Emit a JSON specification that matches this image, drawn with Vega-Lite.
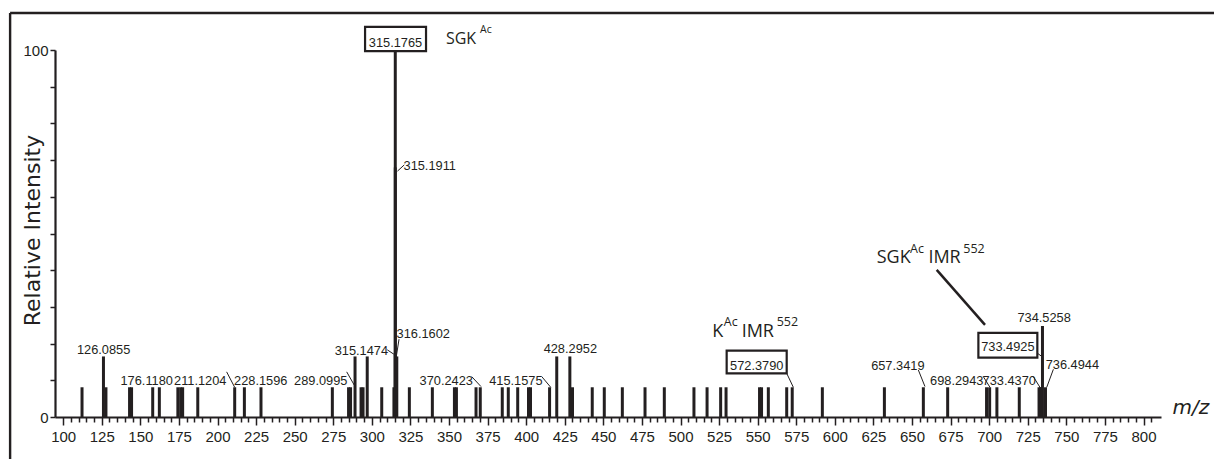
{
  "$schema": "https://vega.github.io/schema/vega-lite/v6.json",
  "width": 1106,
  "height": 367,
  "autosize": {"type": "none"},
  "padding": {"left": 55, "top": 50, "right": 53, "bottom": 42},
  "background": "white",
  "config": {"view": {"stroke": null}, "axis": {"labelOverlap": false}},
  "datasets": {
    "peaks": [
      {"mz": 112.2, "intensity": 8.1}, {"mz": 126.0855, "intensity": 16.5}, {"mz": 127.7, "intensity": 8.1},
      {"mz": 143.0, "intensity": 8.1}, {"mz": 144.3, "intensity": 8.1}, {"mz": 158.0, "intensity": 8.1},
      {"mz": 162.3, "intensity": 8.1}, {"mz": 174.3, "intensity": 8.1}, {"mz": 176.118, "intensity": 8.1},
      {"mz": 177.4, "intensity": 8.1}, {"mz": 187.2, "intensity": 8.1}, {"mz": 211.1204, "intensity": 8.1},
      {"mz": 217.4, "intensity": 8.1}, {"mz": 228.1596, "intensity": 8.1}, {"mz": 274.4, "intensity": 8.1},
      {"mz": 284.9, "intensity": 8.1}, {"mz": 286.2, "intensity": 8.1}, {"mz": 289.0995, "intensity": 16.5},
      {"mz": 293.0, "intensity": 8.1}, {"mz": 294.3, "intensity": 8.1}, {"mz": 297.0, "intensity": 16.5},
      {"mz": 306.4, "intensity": 8.1}, {"mz": 314.3, "intensity": 8.1}, {"mz": 315.1474, "intensity": 16.9},
      {"mz": 315.1765, "intensity": 100}, {"mz": 315.1911, "intensity": 68}, {"mz": 316.1602, "intensity": 16.5},
      {"mz": 324.3, "intensity": 8.1}, {"mz": 339.2, "intensity": 8.1}, {"mz": 353.5, "intensity": 8.1},
      {"mz": 354.8, "intensity": 8.1}, {"mz": 367.5, "intensity": 8.1}, {"mz": 370.2423, "intensity": 8.1},
      {"mz": 384.5, "intensity": 8.1}, {"mz": 388.4, "intensity": 8.1}, {"mz": 394.5, "intensity": 8.1},
      {"mz": 401.5, "intensity": 8.1}, {"mz": 402.8, "intensity": 8.1}, {"mz": 415.1575, "intensity": 8.1},
      {"mz": 419.8, "intensity": 16.5}, {"mz": 428.2952, "intensity": 16.5}, {"mz": 430.0, "intensity": 8.1},
      {"mz": 442.8, "intensity": 8.1}, {"mz": 450.6, "intensity": 8.1}, {"mz": 462.3, "intensity": 8.1},
      {"mz": 477.0, "intensity": 8.1}, {"mz": 489.5, "intensity": 8.1}, {"mz": 508.7, "intensity": 8.1},
      {"mz": 517.2, "intensity": 8.1}, {"mz": 526.0, "intensity": 8.1}, {"mz": 529.5, "intensity": 8.1},
      {"mz": 551.2, "intensity": 8.1}, {"mz": 552.5, "intensity": 8.1}, {"mz": 556.9, "intensity": 8.1},
      {"mz": 568.8, "intensity": 8.1}, {"mz": 572.379, "intensity": 8.1}, {"mz": 591.9, "intensity": 8.1},
      {"mz": 632.1, "intensity": 8.1}, {"mz": 657.3419, "intensity": 8.1}, {"mz": 673.1, "intensity": 8.1},
      {"mz": 698.2943, "intensity": 8.1}, {"mz": 700.3, "intensity": 8.1}, {"mz": 705.0, "intensity": 8.1},
      {"mz": 719.5, "intensity": 8.1}, {"mz": 732.3, "intensity": 8.1}, {"mz": 733.437, "intensity": 8.1},
      {"mz": 733.4925, "intensity": 8.1}, {"mz": 734.5258, "intensity": 24.8}, {"mz": 736.4944, "intensity": 8.1}
    ],
    "labels": [
      {"label": "126.0855", "lx": 126.2, "ly": 17.2},
      {"label": "176.1180", "lx": 154.1, "ly": 8.7},
      {"label": "211.1204", "lx": 188.8, "ly": 8.7},
      {"label": "228.1596", "lx": 228.0, "ly": 8.7},
      {"label": "289.0995", "lx": 266.9, "ly": 8.7},
      {"label": "315.1474", "lx": 293.2, "ly": 17.0},
      {"label": "316.1602", "lx": 333.3, "ly": 21.4},
      {"label": "315.1911", "lx": 337.5, "ly": 67.3},
      {"label": "315.1765", "lx": 315.3, "ly": 100.9},
      {"label": "370.2423", "lx": 348.2, "ly": 8.7},
      {"label": "415.1575", "lx": 393.3, "ly": 8.7},
      {"label": "428.2952", "lx": 428.6, "ly": 17.4},
      {"label": "572.3790", "lx": 549.4, "ly": 12.8},
      {"label": "657.3419", "lx": 640.8, "ly": 12.8},
      {"label": "698.2943", "lx": 679.0, "ly": 8.7},
      {"label": "733.4370", "lx": 713.0, "ly": 8.7},
      {"label": "733.4925", "lx": 712.1, "ly": 17.85},
      {"label": "734.5258", "lx": 735.6, "ly": 26.0},
      {"label": "736.4944", "lx": 753.9, "ly": 13.0}
    ],
    "boxes": [
      {"x1": 295.6, "x2": 335.1, "y1": 99.7, "y2": 106.3},
      {"x1": 529.9, "x2": 568.8, "y1": 11.9, "y2": 18.1},
      {"x1": 693.0, "x2": 731.2, "y1": 16.2, "y2": 22.9}
    ],
    "leaders": [
      {"x1": 205.9, "y1": 12.3, "x2": 211.1, "y2": 8.1},
      {"x1": 283.7, "y1": 12.3, "x2": 288.6, "y2": 8.7},
      {"x1": 310.0, "y1": 18.3, "x2": 315.0, "y2": 16.9},
      {"x1": 317.6, "y1": 21.2, "x2": 316.0, "y2": 16.9},
      {"x1": 316.6, "y1": 67.0, "x2": 321.0, "y2": 68.7},
      {"x1": 364.7, "y1": 11.0, "x2": 370.7, "y2": 8.3},
      {"x1": 410.1, "y1": 11.0, "x2": 415.9, "y2": 8.1},
      {"x1": 568.8, "y1": 11.9, "x2": 573.1, "y2": 8.1},
      {"x1": 654.1, "y1": 12.8, "x2": 658.4, "y2": 8.3},
      {"x1": 696.2, "y1": 11.0, "x2": 700.5, "y2": 8.1},
      {"x1": 728.6, "y1": 11.0, "x2": 732.9, "y2": 8.1},
      {"x1": 731.2, "y1": 17.4, "x2": 734.7, "y2": 16.3},
      {"x1": 741.6, "y1": 13.0, "x2": 737.3, "y2": 8.1}
    ],
    "bigLeader": [
      {"x1": 666.0, "y1": 40.1, "x2": 697.3, "y2": 25.1}
    ],
    "frame": [
      {"x1": 65.6, "y1": 110.1, "x2": 850, "y2": 110.1},
      {"x1": 65.6, "y1": 110.1, "x2": 65.6, "y2": -14}
    ],
    "annots": [
      {"t": "SGK", "ax": 348.0, "ay": 101.6, "role": "main"},
      {"t": "Ac", "ax": 370.1, "ay": 104.6, "role": "main-sup"},
      {"t": "K", "ax": 520.6, "ay": 21.9, "role": "ion"},
      {"t": "Ac", "ax": 528.0, "ay": 24.8, "role": "ion-sup"},
      {"t": "IMR", "ax": 539.6, "ay": 21.9, "role": "ion"},
      {"t": "552", "ax": 562.3, "ay": 24.8, "role": "ion-sup"},
      {"t": "SGK", "ax": 627.1, "ay": 41.9, "role": "ion"},
      {"t": "Ac", "ax": 648.7, "ay": 44.6, "role": "ion-sup"},
      {"t": "IMR", "ax": 660.6, "ay": 41.9, "role": "ion"},
      {"t": "552", "ax": 683.2, "ay": 44.6, "role": "ion-sup"}
    ]
  },
  "layer": [
    {
      "data": {"name": "peaks"},
      "mark": {"type": "rule", "strokeWidth": 3, "color": "#231f20", "strokeCap": "butt"},
      "encoding": {
        "x": {
          "field": "mz", "type": "quantitative",
          "scale": {"domain": [94.69, 811.33], "nice": false, "zero": false},
          "axis": {
            "values": [100,105,110,115,120,125,130,135,140,145,150,155,160,165,170,175,180,185,190,195,200,205,210,215,220,225,230,235,240,245,250,255,260,265,270,275,280,285,290,295,300,305,310,315,320,325,330,335,340,345,350,355,360,365,370,375,380,385,390,395,400,405,410,415,420,425,430,435,440,445,450,455,460,465,470,475,480,485,490,495,500,505,510,515,520,525,530,535,540,545,550,555,560,565,570,575,580,585,590,595,600,605,610,615,620,625,630,635,640,645,650,655,660,665,670,675,680,685,690,695,700,705,710,715,720,725,730,735,740,745,750,755,760,765,770,775,780,785,790,795,800,805],
            "tickCount": 500,
            "labelExpr": "datum.value % 25 === 0 ? datum.label : ''",
            "labelOverlap": false,
            "labelFlush": false,
            "tickSize": {"condition": {"test": "datum.value % 25 === 0", "value": 8}, "value": 5},
            "tickWidth": 1.5,
            "tickColor": "#231f20",
            "domainColor": "#231f20",
            "domainWidth": 2.2,
            "labelFont": "Liberation Sans",
            "labelFontSize": 15,
            "labelColor": "#231f20",
            "labelPadding": 4,
            "grid": false,
            "title": "m/z",
            "titleFont": "DejaVu Sans",
            "titleFontStyle": "italic",
            "titleFontWeight": "normal",
            "titleFontSize": 20,
            "titleColor": "#231f20",
            "titleAngle": 0,
            "titleAlign": "left",
            "titleBaseline": "alphabetic",
            "titleX": 1117,
            "titleY": -4
          }
        },
        "y": {
          "field": "intensity", "type": "quantitative",
          "scale": {"domain": [0, 100], "nice": false, "zero": true},
          "axis": {
            "values": [0,10,20,30,40,50,60,70,80,90,100],
            "tickCount": 100,
            "labelExpr": "datum.value === 0 || datum.value === 100 ? datum.label : ''",
            "labelOverlap": false,
            "tickSize": 5,
            "tickWidth": 1.5,
            "tickColor": "#231f20",
            "domainColor": "#231f20",
            "domainWidth": 2.2,
            "labelFont": "Liberation Sans",
            "labelFontSize": 15,
            "labelColor": "#231f20",
            "labelPadding": 2,
            "grid": false,
            "title": "Relative Intensity",
            "titleFont": "DejaVu Sans",
            "titleFontWeight": "normal",
            "titleFontSize": 22,
            "titleColor": "#231f20",
            "titleAngle": -90,
            "titleAlign": "center",
            "titleBaseline": "alphabetic",
            "titleX": -16,
            "titleY": 180
          }
        },
        "y2": {"datum": 0}
      }
    },
    {
      "data": {"name": "frame"},
      "mark": {"type": "rule", "strokeWidth": 2.4, "color": "#231f20"},
      "encoding": {
        "x": {"field": "x1", "type": "quantitative"},
        "x2": {"field": "x2"},
        "y": {"field": "y1", "type": "quantitative"},
        "y2": {"field": "y2"}
      }
    },
    {
      "data": {"name": "leaders"},
      "mark": {"type": "rule", "strokeWidth": 1, "color": "#231f20"},
      "encoding": {
        "x": {"field": "x1", "type": "quantitative"},
        "x2": {"field": "x2"},
        "y": {"field": "y1", "type": "quantitative"},
        "y2": {"field": "y2"}
      }
    },
    {
      "data": {"name": "bigLeader"},
      "mark": {"type": "rule", "strokeWidth": 2.5, "color": "#231f20"},
      "encoding": {
        "x": {"field": "x1", "type": "quantitative"},
        "x2": {"field": "x2"},
        "y": {"field": "y1", "type": "quantitative"},
        "y2": {"field": "y2"}
      }
    },
    {
      "data": {"name": "boxes"},
      "mark": {"type": "rect", "fill": "white", "stroke": "#231f20", "strokeWidth": 2.2},
      "encoding": {
        "x": {"field": "x1", "type": "quantitative"},
        "x2": {"field": "x2"},
        "y": {"field": "y1", "type": "quantitative"},
        "y2": {"field": "y2"}
      }
    },
    {
      "data": {"name": "labels"},
      "mark": {"type": "text", "align": "center", "baseline": "alphabetic", "font": "Liberation Sans", "fontSize": 12.8, "color": "#231f20"},
      "encoding": {
        "x": {"field": "lx", "type": "quantitative"},
        "y": {"field": "ly", "type": "quantitative"},
        "text": {"field": "label", "type": "nominal"}
      }
    },
    {
      "data": {"name": "annots"},
      "transform": [{"filter": "datum.role === 'main'"}],
      "mark": {"type": "text", "align": "left", "baseline": "alphabetic", "font": "Open Sans", "fontSize": 16, "color": "#231f20"},
      "encoding": {
        "x": {"field": "ax", "type": "quantitative"},
        "y": {"field": "ay", "type": "quantitative"},
        "text": {"field": "t", "type": "nominal"}
      }
    },
    {
      "data": {"name": "annots"},
      "transform": [{"filter": "datum.role === 'main-sup'"}],
      "mark": {"type": "text", "align": "left", "baseline": "alphabetic", "font": "Open Sans", "fontSize": 10.5, "color": "#231f20"},
      "encoding": {
        "x": {"field": "ax", "type": "quantitative"},
        "y": {"field": "ay", "type": "quantitative"},
        "text": {"field": "t", "type": "nominal"}
      }
    },
    {
      "data": {"name": "annots"},
      "transform": [{"filter": "datum.role === 'ion'"}],
      "mark": {"type": "text", "align": "left", "baseline": "alphabetic", "font": "Open Sans", "fontSize": 18, "color": "#231f20"},
      "encoding": {
        "x": {"field": "ax", "type": "quantitative"},
        "y": {"field": "ay", "type": "quantitative"},
        "text": {"field": "t", "type": "nominal"}
      }
    },
    {
      "data": {"name": "annots"},
      "transform": [{"filter": "datum.role === 'ion-sup'"}],
      "mark": {"type": "text", "align": "left", "baseline": "alphabetic", "font": "Open Sans", "fontSize": 12.5, "color": "#231f20"},
      "encoding": {
        "x": {"field": "ax", "type": "quantitative"},
        "y": {"field": "ay", "type": "quantitative"},
        "text": {"field": "t", "type": "nominal"}
      }
    }
  ]
}
